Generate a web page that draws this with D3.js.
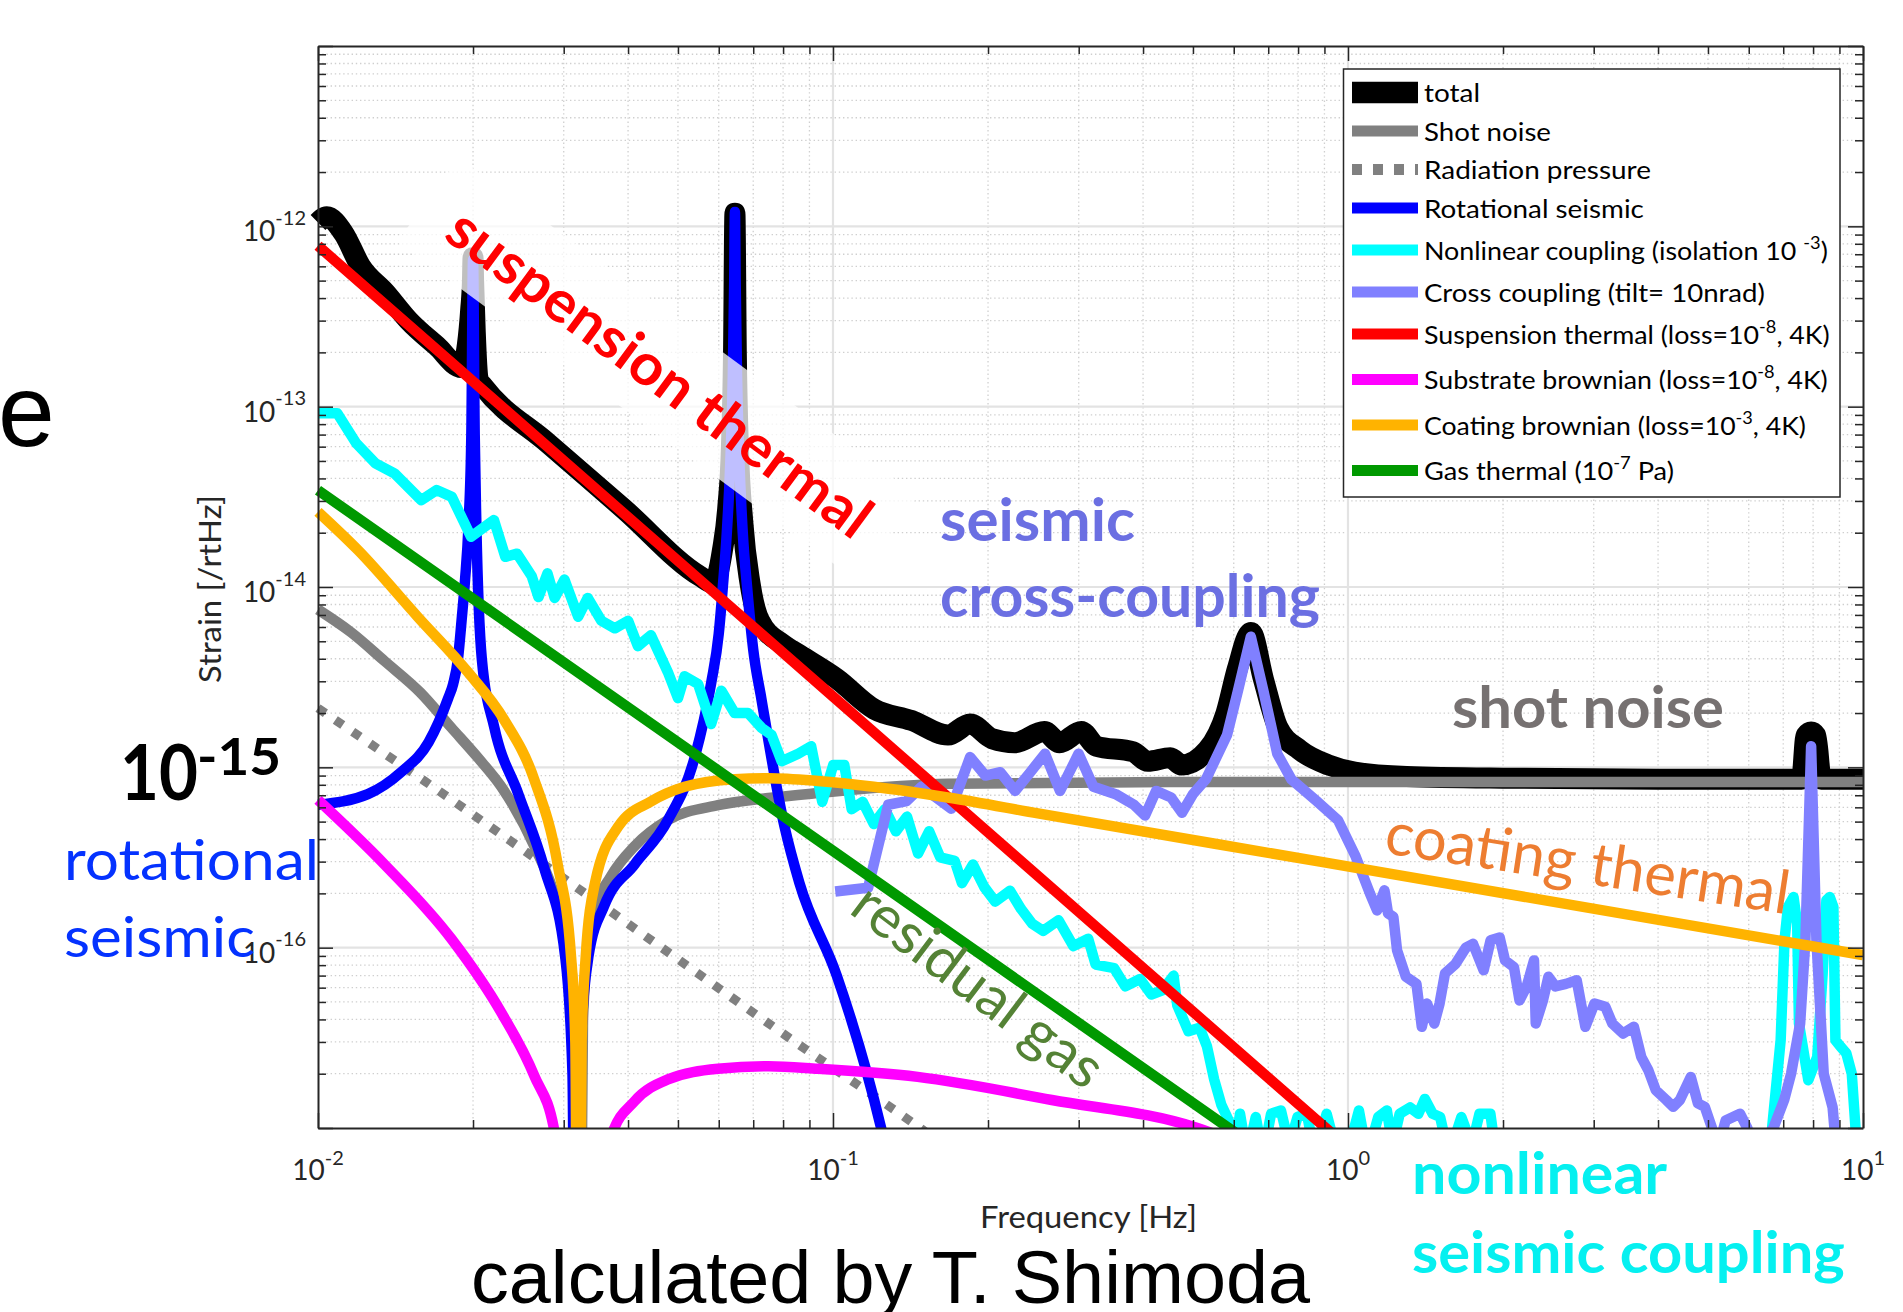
<!DOCTYPE html>
<html>
<head>
<meta charset="utf-8">
<title>Strain noise budget</title>
<script src="https://cdn.jsdelivr.net/npm/d3@7/dist/d3.min.js"></script>
<style>
  html, body { margin: 0; padding: 0; background: #ffffff; overflow: hidden; }
  svg { display: block; }
  text { white-space: pre; }
</style>
</head>
<body>
<svg id="chart" width="1903" height="1312"></svg>
<script>
// ---------------- Noise curves: [frequency Hz, strain /rtHz] ----------------
const totalNoise = [
  [0.0100, 1.05e-12], [0.0104, 1.13e-12], [0.0112, 9.2e-13], [0.0121, 6.0e-13], [0.0135, 4.3e-13],
  [0.0150, 3.0e-13], [0.0170, 2.17e-13], [0.0190, 1.65e-13], [0.0195, 2.2e-13], [0.0198, 3.5e-13],
  [0.01995, 5.0e-13], [0.0200, 6.7e-13], [0.02005, 5.0e-13], [0.0202, 2.6e-13], [0.0205, 1.4e-13],
  [0.0209, 1.3e-13], [0.0279, 6.3e-14], [0.0393, 2.7e-14], [0.0554, 1.14e-14], [0.0585, 1.05e-14],
  [0.0610, 1.6e-14], [0.0625, 2.8e-14], [0.0635, 6.0e-14], [0.0641, 2.0e-13], [0.0645, 1.18e-12],
  [0.0649, 2.0e-13], [0.0655, 6.0e-14], [0.0668, 2.3e-14], [0.0690, 1.05e-14], [0.0720, 6.5e-15],
  [0.0800, 4.8e-15], [0.0861, 4.2e-15], [0.1017, 3.1e-15], [0.1203, 2.1e-15], [0.1420, 1.82e-15],
  [0.1672, 1.51e-15], [0.1846, 1.74e-15], [0.2038, 1.44e-15], [0.2253, 1.37e-15], [0.2573, 1.58e-15],
  [0.2753, 1.37e-15], [0.3035, 1.58e-15], [0.3244, 1.31e-15], [0.3825, 1.22e-15], [0.4085, 1.08e-15],
  [0.4518, 1.13e-15], [0.4750, 1.03e-15], [0.5336, 1.25e-15], [0.5797, 2.0e-15], [0.6100, 3.53e-15],
  [0.6476, 5.6e-15], [0.6856, 3.06e-15], [0.7311, 1.66e-15], [0.8054, 1.25e-15], [0.9170, 1.03e-15],
  [1.030, 9.4e-16], [1.300, 8.9e-16], [2.000, 8.7e-16], [4.000, 8.6e-16], [7.600, 8.6e-16],
  [7.750, 1.5e-15], [7.930, 1.57e-15], [8.100, 1.5e-15], [8.300, 8.6e-16], [10.00, 8.6e-16]
];

const shotNoise = [
  [0.0100, 7.5e-15], [0.0116, 5.6e-15], [0.01347, 3.88e-15], [0.0158, 2.6e-15], [0.01815, 1.66e-15],
  [0.0205, 1.12e-15], [0.0227, 7.8e-16], [0.0263, 3.66e-16], [0.0292, 1.72e-16], [0.0310, 8.0e-17],
  [0.0316, 3.0e-17], [0.0321, 1e-19], [0.0327, 4.0e-17], [0.0339, 1.42e-16], [0.0371, 2.5e-16],
  [0.0412, 3.66e-16], [0.0478, 5.1e-16], [0.0598, 6.17e-16], [0.0749, 6.76e-16], [0.0935, 7.2e-16],
  [0.167, 8.1e-16], [0.45, 8.3e-16], [10.0, 8.3e-16]
];

const radiationPressure = [
  [0.0100, 2.13e-15], [0.0161, 8.4e-16], [0.0330, 2.0e-16], [0.0907, 2.6e-17], [0.1441, 1.05e-17], [0.2000, 5.3e-18]
];

const rotationalSeismic = [
  [0.0100, 6.2e-16], [0.0125, 7.1e-16], [0.0145, 9.4e-16], [0.0164, 1.38e-15], [0.0179, 2.42e-15],
  [0.0183, 2.9e-15], [0.0187, 4.0e-15], [0.0190, 6.5e-15], [0.0193, 1.1e-14], [0.0196, 2.2e-14],
  [0.01985, 7.0e-14], [0.0200, 6.5e-13], [0.02015, 7.0e-14], [0.0203, 2.2e-14], [0.0208, 4.0e-15],
  [0.0220, 1.66e-15], [0.0245, 7.1e-16], [0.0275, 2.76e-16], [0.0302, 8.9e-17], [0.0312, 2.0e-17],
  [0.0317, 1e-19], [0.0322, 2.0e-17], [0.0335, 8.9e-17], [0.0360, 1.72e-16], [0.0412, 2.9e-16],
  [0.0478, 5.1e-16], [0.0539, 1.14e-15], [0.0580, 2.93e-15], [0.0600, 5.5e-15], [0.0611, 1.0e-14],
  [0.0622, 2.0e-14], [0.0632, 5.0e-14], [0.0639, 1.5e-13], [0.0643, 5.0e-13], [0.0645, 1.2e-12],
  [0.0647, 5.0e-13], [0.0651, 1.5e-13], [0.0658, 5.0e-14], [0.0668, 2.0e-14], [0.0681, 1.0e-14],
  [0.0700, 4.5e-15], [0.0726, 2.4e-15], [0.0805, 4.7e-16], [0.0860, 2.3e-16], [0.1017, 7.0e-17],
  [0.1240, 1.0e-17], [0.1400, 2.0e-18]
];

const nonlinearCoupling = [
  [0.0100, 9.2e-14], [0.0109, 9.2e-14], [0.01187, 6.25e-14], [0.01293, 4.85e-14], [0.01407, 4.27e-14],
  [0.01587, 3.03e-14], [0.01699, 3.45e-14], [0.01819, 3.16e-14], [0.01982, 1.9e-14], [0.02196, 2.35e-14],
  [0.02311, 1.47e-14], [0.02435, 1.53e-14], [0.0260, 1.15e-14], [0.0268, 8.8e-15], [0.0279, 1.19e-14],
  [0.0288, 8.7e-15], [0.0301, 1.1e-14], [0.0320, 6.84e-15], [0.0334, 8.7e-15], [0.0355, 6.5e-15],
  [0.0377, 5.9e-15], [0.0400, 6.5e-15], [0.0418, 4.7e-15], [0.0443, 5.4e-15], [0.0478, 3.37e-15],
  [0.0500, 2.42e-15], [0.0515, 3.2e-15], [0.0547, 2.9e-15], [0.0580, 1.74e-15], [0.0607, 2.66e-15],
  [0.0644, 2.0e-15], [0.0684, 2.0e-15], [0.0726, 1.66e-15], [0.0760, 1.51e-15], [0.0795, 1.08e-15],
  [0.0856, 1.19e-15], [0.0907, 1.31e-15], [0.0953, 6.44e-16], [0.1001, 1.03e-15], [0.1052, 1.03e-15],
  [0.1087, 5.86e-16], [0.1142, 6.44e-16], [0.1200, 4.85e-16], [0.1261, 5.86e-16], [0.1325, 4.42e-16],
  [0.1392, 5.33e-16], [0.1463, 3.33e-16], [0.1537, 4.42e-16], [0.1615, 3.17e-16], [0.1723, 3.03e-16],
  [0.1780, 2.28e-16], [0.1870, 2.89e-16], [0.1966, 2.17e-16], [0.2065, 1.8e-16], [0.2206, 2.07e-16],
  [0.2318, 1.64e-16], [0.2436, 1.36e-16], [0.2559, 1.24e-16], [0.2740, 1.42e-16], [0.2929, 1.02e-16],
  [0.3130, 1.12e-16], [0.3236, 8.05e-17], [0.3515, 7.7e-17], [0.3695, 6.1e-17], [0.3946, 6.7e-17],
  [0.4150, 5.5e-17], [0.4362, 5.8e-17], [0.4585, 7.0e-17], [0.4660, 4.8e-17], [0.4899, 3.44e-17],
  [0.5150, 3.6e-17], [0.5320, 2.85e-17], [0.5496, 1.86e-17], [0.5679, 1.34e-17], [0.5960, 1.0e-17],
  [0.605, 8e-18], [0.617, 1.2e-17], [0.637, 7e-18], [0.662, 1.15e-17], [0.684, 7e-18],
  [0.709, 1.2e-17], [0.741, 1.25e-17], [0.769, 8e-18], [0.798, 1.15e-17], [0.832, 1.2e-17],
  [0.863, 7e-18], [0.909, 1.2e-17], [0.943, 8e-18], [0.995, 7e-18], [1.05, 1.25e-17],
  [1.09, 7e-18], [1.145, 1.15e-17], [1.19, 1.25e-17], [1.22, 8e-18], [1.26, 1.2e-17],
  [1.32, 1.3e-17], [1.37, 1.2e-17], [1.41, 1.45e-17], [1.46, 1.2e-17], [1.51, 1.15e-17],
  [1.57, 7e-18], [1.66, 1.15e-17], [1.74, 8e-18], [1.80, 1.2e-17], [1.89, 1.2e-17],
  [1.94, 7e-18], [3.0, 3e-18], [6.5, 3e-18], [6.66, 1.0e-17], [6.82, 2.0e-17],
  [6.92, 3.07e-17], [7.04, 1.1e-16], [7.15, 1.68e-16], [7.33, 1.91e-16], [7.45, 1.36e-16],
  [7.51, 3.8e-17], [7.83, 1.84e-17], [8.15, 2.48e-17], [8.35, 7.2e-17], [8.49, 1.83e-16],
  [8.62, 1.91e-16], [8.76, 1.68e-16], [8.84, 3.07e-17], [9.05, 2.82e-17], [9.28, 2.6e-17],
  [9.51, 2.0e-17], [9.67, 1.0e-17], [9.85, 6e-18], [10.0, 5e-18]
];

const crossCoupling = [
  [0.101, 2.05e-16], [0.117, 2.15e-16], [0.128, 6.2e-16], [0.139, 6.5e-16], [0.1485, 7.8e-16],
  [0.162, 6.5e-16], [0.1697, 5.9e-16], [0.1846, 1.14e-15], [0.1977, 9.0e-16], [0.2113, 9.4e-16],
  [0.2258, 7.4e-16], [0.2416, 9.4e-16], [0.258, 1.19e-15], [0.276, 7.4e-16], [0.2998, 1.19e-15],
  [0.3205, 7.8e-16], [0.354, 7.1e-16], [0.384, 6.2e-16], [0.4035, 5.4e-16], [0.424, 7.4e-16],
  [0.4535, 6.8e-16], [0.476, 5.6e-16], [0.500, 7.1e-16], [0.530, 8.6e-16], [0.5823, 1.51e-15],
  [0.6114, 2.66e-15], [0.6476, 5.3e-15], [0.685, 2.66e-15], [0.7288, 1.19e-15], [0.777, 8.55e-16],
  [0.869, 6.5e-16], [0.956, 5.1e-16], [1.035, 3.2e-16], [1.103, 2.0e-16], [1.139, 1.61e-16],
  [1.177, 2.08e-16], [1.196, 1.55e-16], [1.225, 1.48e-16], [1.245, 9.7e-17], [1.295, 6.9e-17],
  [1.358, 6.3e-17], [1.391, 3.64e-17], [1.424, 4.9e-17], [1.471, 3.8e-17], [1.506, 4.9e-17],
  [1.543, 7.2e-17], [1.616, 8.1e-17], [1.694, 1.0e-16], [1.749, 1.05e-16], [1.834, 7.5e-17],
  [1.892, 1.1e-16], [1.970, 1.14e-16], [2.018, 8.5e-17], [2.100, 7.8e-17], [2.153, 5.1e-17],
  [2.223, 6.1e-17], [2.297, 8.5e-17], [2.315, 3.8e-17], [2.391, 5.1e-17], [2.450, 6.9e-17],
  [2.527, 6.1e-17], [2.650, 6.3e-17], [2.780, 6.6e-17], [2.890, 3.64e-17], [3.010, 4.9e-17],
  [3.160, 4.7e-17], [3.260, 3.8e-17], [3.420, 3.34e-17], [3.590, 3.64e-17], [3.710, 2.48e-17],
  [3.830, 2.09e-17], [3.960, 1.62e-17], [4.150, 1.43e-17], [4.280, 1.31e-17], [4.410, 1.43e-17],
  [4.630, 1.92e-17], [4.780, 1.37e-17], [4.930, 1.31e-17], [5.090, 1.0e-17], [5.250, 8e-18],
  [5.410, 1.1e-17], [5.770, 1.2e-17], [5.960, 1.0e-17], [6.200, 7.5e-18], [6.700, 1.0e-17],
  [7.030, 1.43e-17], [7.250, 2.0e-17], [7.550, 3.8e-17], [7.730, 1.1e-16], [7.930, 1.31e-15],
  [8.120, 1.1e-16], [8.390, 2.0e-17], [8.730, 1.3e-17], [8.800, 1.0e-17], [9.300, 7e-18]
];

const suspensionThermal = [[0.0100, 7.8e-13], [0.1000, 2.47e-15], [1.0000, 7.8e-18]];

const substrateBrownian = [
  [0.0100, 6.6e-16], [0.01347, 2.89e-16], [0.01815, 1.12e-16], [0.0227, 4.36e-17], [0.0263, 1.95e-17],
  [0.0288, 9.5e-18], [0.0327, 1e-19], [0.0371, 9e-18], [0.0412, 1.41e-17], [0.0478, 1.86e-17],
  [0.0598, 2.13e-17], [0.0749, 2.2e-17], [0.0935, 2.13e-17], [0.146, 1.92e-17], [0.266, 1.43e-17],
  [0.510, 1.0e-17], [0.700, 7e-18]
];

const coatingBrownian = [
  [0.0100, 2.61e-14], [0.01196, 1.6e-14], [0.01564, 6.8e-15], [0.01955, 3.37e-15], [0.0230, 1.83e-15],
  [0.0263, 8.55e-16], [0.0292, 2.9e-16], [0.0310, 8.9e-17], [0.0316, 3e-17], [0.0320, 1e-19],
  [0.0325, 3e-17], [0.0331, 8.9e-17], [0.0345, 2.28e-16], [0.0383, 4.7e-16], [0.0443, 6.46e-16],
  [0.0515, 7.8e-16], [0.0644, 8.6e-16], [0.0750, 8.7e-16], [0.0935, 8.4e-16], [0.120, 7.8e-16],
  [0.167, 6.8e-16], [0.250, 5.55e-16], [0.882, 3.0e-16], [10.0, 9.1e-17]
];

const gasThermal = [[0.0100, 3.44e-14], [0.1000, 3.44e-16], [1.0000, 3.44e-18]];

// ---------------- Legend text ("^{..}" marks a superscript) ----------------
const legendLabels = [
  "total",
  "Shot noise",
  "Radiation pressure",
  "Rotational seismic",
  "Nonlinear coupling (isolation 10 ^{-3})",
  "Cross coupling (tilt= 10nrad)",
  "Suspension thermal (loss=10^{-8}, 4K)",
  "Substrate brownian (loss=10^{-8}, 4K)",
  "Coating brownian (loss=10^{-3}, 4K)",
  "Gas thermal (10^{-7} Pa)"
];

// ---------------- Tick labels ----------------
const xTickValues = [1e-2, 1e-1, 1e0, 1e1];
const xTickExponents = ["-2", "-1", "0", "1"];
const yTickValues = [1e-12, 1e-13, 1e-14, 1e-16];
const yTickExponents = ["-12", "-13", "-14", "-16"];

// ---------------- Layout ----------------
const svg = d3.select("#chart");
const plot = { left: 318, right: 1863, top: 46, bottom: 1128 };
const x = d3.scaleLog().domain([1e-2, 1e1]).range([plot.left, plot.right]);
const y = d3.scaleLog().domain([1e-17, 1e-11]).range([plot.bottom, plot.top]);

const AXIS = "#262626";
const SANS = "Lato, 'Open Sans', sans-serif";

// squeeze/stretch a text horizontally to a given width, keeping its anchor fixed
function fitText(sel, target) {
  const bb = sel.node().getBBox();
  if (!bb.width) return sel;
  const k = target / bb.width;
  const ox = +sel.attr("x") || 0;
  sel.attr("transform", `translate(${ox},0) scale(${k},1) translate(${-ox},0)`);
  return sel;
}

// text with "^{..}" superscripts
function richText(sel, label, supSize, supShift) {
  const parts = label.split(/(\^\{[^}]*\})/).filter(p => p.length);
  let raised = false;
  parts.forEach(p => {
    if (p.startsWith("^{")) {
      sel.append("tspan").attr("font-size", supSize).attr("dy", -supShift).text(p.slice(2, -1));
      raised = true;
    } else {
      const t = sel.append("tspan").text(p);
      if (raised) { t.attr("dy", supShift); raised = false; }
    }
  });
  return sel;
}

// ---------------- Grid ----------------
const xMajor = [1e-2, 1e-1, 1e0, 1e1];
const yMajor = [1e-17, 1e-16, 1e-15, 1e-14, 1e-13, 1e-12, 1e-11];
const xMinor = [];
for (let e = -2; e < 1; e++) for (let k = 2; k <= 9; k++) xMinor.push(k * Math.pow(10, e));
const yMinor = [];
for (let e = -17; e < -11; e++) for (let k = 2; k <= 9; k++) yMinor.push(k * Math.pow(10, e));

const grid = svg.append("g").attr("class", "grid");
grid.selectAll("line.xmin").data(xMinor).join("line")
  .attr("x1", d => x(d)).attr("x2", d => x(d)).attr("y1", plot.top).attr("y2", plot.bottom)
  .attr("stroke", "#cfcfcf").attr("stroke-width", 1.3).attr("stroke-dasharray", "1.4,2.8");
grid.selectAll("line.ymin").data(yMinor).join("line")
  .attr("y1", d => y(d)).attr("y2", d => y(d)).attr("x1", plot.left).attr("x2", plot.right)
  .attr("stroke", "#cfcfcf").attr("stroke-width", 1.3).attr("stroke-dasharray", "1.4,2.8");
grid.selectAll("line.xmaj").data(xMajor.slice(1, -1)).join("line")
  .attr("x1", d => x(d)).attr("x2", d => x(d)).attr("y1", plot.top).attr("y2", plot.bottom)
  .attr("stroke", "#e3e3e3").attr("stroke-width", 2.2);
grid.selectAll("line.ymaj").data(yMajor.slice(1, -1)).join("line")
  .attr("y1", d => y(d)).attr("y2", d => y(d)).attr("x1", plot.left).attr("x2", plot.right)
  .attr("stroke", "#e3e3e3").attr("stroke-width", 2.2);

// ---------------- Curves ----------------
svg.append("defs").append("clipPath").attr("id", "plotClip")
  .append("rect").attr("x", plot.left - 20).attr("y", plot.top)
  .attr("width", plot.right - plot.left + 40).attr("height", plot.bottom - plot.top);

// smooth = modelled curves; jagged = measured/noisy spectra
const series = [
  { data: totalNoise,        color: "#000000", width: 21,   smooth: true },
  { data: shotNoise,         color: "#808080", width: 10.5, smooth: true },
  { data: radiationPressure, color: "#808080", width: 9,    smooth: true, dash: "9,12" },
  { data: rotationalSeismic, color: "#0000ff", width: 10.5, smooth: true },
  { data: nonlinearCoupling, color: "#00ffff", width: 10.5, smooth: false },
  { data: crossCoupling,     color: "#8080ff", width: 10.5, smooth: false },
  { data: suspensionThermal, color: "#ff0000", width: 10.5, smooth: false },
  { data: substrateBrownian, color: "#ff00ff", width: 10.5, smooth: true },
  { data: coatingBrownian,   color: "#ffb300", width: 10.5, smooth: true },
  { data: gasThermal,        color: "#009900", width: 10.5, smooth: false }
];

const smoothLine = d3.line().x(d => x(d[0])).y(d => y(d[1])).curve(d3.curveMonotoneX);
const jaggedLine = d3.line().x(d => x(d[0])).y(d => y(d[1]));
const curves = svg.append("g").attr("clip-path", "url(#plotClip)");
series.forEach(s => {
  curves.append("path")
    .attr("d", (s.smooth ? smoothLine : jaggedLine)(s.data))
    .attr("fill", "none")
    .attr("stroke", s.color)
    .attr("stroke-width", s.width)
    .attr("stroke-linejoin", "round")
    .attr("stroke-linecap", "butt")
    .attr("stroke-dasharray", s.dash || null);
});

// ---------------- Axes (box with inward ticks) ----------------
const allX = xMajor.concat(xMinor);
const allY = yMajor.concat(yMinor);
const isMajX = d => xMajor.includes(d);
const isMajY = d => yMajor.includes(d);

function styleAxis(g) {
  g.select(".domain").attr("stroke", AXIS).attr("stroke-width", 2);
  g.selectAll(".tick line").attr("stroke", AXIS).attr("stroke-width", 1.5);
  g.selectAll(".tick text").remove();
}
const axB = svg.append("g").attr("transform", `translate(0,${plot.bottom})`)
  .call(d3.axisBottom(x).tickValues(allX).tickFormat("").tickSizeOuter(0));
axB.selectAll(".tick line").attr("y2", d => isMajX(d) ? -15 : -8);
styleAxis(axB);
const axT = svg.append("g").attr("transform", `translate(0,${plot.top})`)
  .call(d3.axisTop(x).tickValues(allX).tickFormat("").tickSizeOuter(0));
axT.selectAll(".tick line").attr("y2", d => isMajX(d) ? 15 : 8);
styleAxis(axT);
const axL = svg.append("g").attr("transform", `translate(${plot.left},0)`)
  .call(d3.axisLeft(y).tickValues(allY).tickFormat("").tickSizeOuter(0));
axL.selectAll(".tick line").attr("x2", d => isMajY(d) ? 15 : 8);
styleAxis(axL);
const axR = svg.append("g").attr("transform", `translate(${plot.right},0)`)
  .call(d3.axisRight(y).tickValues(allY).tickFormat("").tickSizeOuter(0));
axR.selectAll(".tick line").attr("x2", d => isMajY(d) ? -15 : -8);
styleAxis(axR);

// tick labels 10^n
xTickValues.forEach((v, i) => {
  const t = svg.append("text").attr("x", x(v)).attr("y", 1180)
    .attr("text-anchor", "middle").attr("font-family", SANS).attr("font-size", 28).attr("fill", AXIS);
  richText(t, "10^{" + xTickExponents[i] + "}", 20, 15);
});
yTickValues.forEach((v, i) => {
  const t = svg.append("text").attr("x", 306).attr("y", y(v) + 15)
    .attr("text-anchor", "end").attr("font-family", SANS).attr("font-size", 28).attr("fill", AXIS);
  richText(t, "10^{" + yTickExponents[i] + "}", 20, 16.5);
});

// axis titles
const xTitle = svg.append("text").attr("x", 1088.5).attr("y", 1228).attr("text-anchor", "middle")
  .attr("font-family", SANS).attr("font-size", 31).attr("fill", AXIS).text("Frequency [Hz]");
fitText(xTitle, 217);
const yTitleG = svg.append("g").attr("transform", "translate(221,589) rotate(-90)");
const yTitle = yTitleG.append("text").attr("x", 0).attr("y", 0).attr("text-anchor", "middle")
  .attr("font-family", SANS).attr("font-size", 31).attr("fill", AXIS).text("Strain [/rtHz]");
fitText(yTitle, 188);

// ---------------- Legend ----------------
const legendWidths = [56, 127, 227, 220, 404, 341, 406, 404, 382, 250];
const lg = svg.append("g").attr("class", "legend");
lg.append("rect").attr("x", 1343.5).attr("y", 69).attr("width", 496.5).attr("height", 428)
  .attr("fill", "#ffffff").attr("stroke", AXIS).attr("stroke-width", 1.5);
const rowH = legendLabels.map(l => l.includes("^{") ? 45.5 : 38.5);
const rowY = [];
legendLabels.forEach((l, i) => {
  rowY.push(i === 0 ? 92.5 : rowY[i - 1] + (rowH[i - 1] + rowH[i]) / 2);
});
series.forEach((s, i) => {
  lg.append("line").attr("x1", 1352).attr("x2", 1418).attr("y1", rowY[i]).attr("y2", rowY[i])
    .attr("stroke", s.color).attr("stroke-width", i === 0 ? 21.5 : 11)
    .attr("stroke-dasharray", s.dash ? "10,11" : null);
  const t = lg.append("text").attr("x", 1424).attr("y", rowY[i] + 10)
    .attr("font-family", SANS).attr("font-size", 25).attr("fill", "#000");
  richText(t, legendLabels[i], 17, 11);
  fitText(t, legendWidths[i]);
});

// ---------------- Annotations ----------------
// translucent band behind the rotated "suspension thermal" label
const susG = svg.append("g").attr("transform", "rotate(36.4)");
susG.append("rect").attr("x", 463).attr("y", -145.4).attr("width", 570).attr("height", 104.4)
  .attr("fill", "#ffffff").attr("fill-opacity", 0.75);
const susT = svg.append("g").attr("transform", "rotate(36.4) translate(497,-71)")
  .append("text").attr("x", 0).attr("y", 0).attr("font-family", SANS).attr("font-weight", 700)
  .attr("font-size", 58).attr("fill", "#ff0000").text("suspension thermal");
fitText(susT, 511);

function label(str, xPos, yPos, size, color, weight, width) {
  const t = svg.append("text").attr("x", xPos).attr("y", yPos).attr("font-family", SANS)
    .attr("font-size", size).attr("font-weight", weight).attr("fill", color).text(str);
  return fitText(t, width);
}
label("seismic", 940, 541, 59, "#6b6fe2", 700, 195);
label("cross-coupling", 940, 616.7, 59, "#6b6fe2", 700, 380);
label("shot noise", 1452, 728.3, 57, "#767171", 700, 272);
label("rotational", 64, 880, 57, "#0432ff", 400, 255);
label("seismic", 64, 956.7, 57, "#0432ff", 400, 191);
label("nonlinear", 1412, 1194.5, 57, "#05f0f0", 700, 256);
label("seismic coupling", 1412, 1273, 57, "#05f0f0", 700, 433);

const coatT = svg.append("g").attr("transform", "translate(1383,853) rotate(8.6)")
  .append("text").attr("x", 0).attr("y", 0).attr("font-family", SANS).attr("font-size", 60)
  .attr("fill", "#ed7d31").text("coating thermal");
fitText(coatT, 408);

const gasT = svg.append("g").attr("transform", "translate(847.5,912) rotate(37)")
  .append("text").attr("x", 0).attr("y", 0).attr("font-family", SANS).attr("font-size", 58)
  .attr("fill", "#548235").text("residual gas");
fitText(gasT, 298);

// large tick callout
label("10", 120, 800, 77, "#000000", 700, 78);
label("-15", 197, 775, 52, "#000000", 700, 84);

// slide text around the figure
const HELV = "'Liberation Sans', Arial, Helvetica, sans-serif";
svg.append("text").attr("x", -2).attr("y", 446).attr("font-family", HELV).attr("font-size", 102)
  .attr("fill", "#000").text("e");
const credit = svg.append("text").attr("x", 471).attr("y", 1303).attr("font-family", HELV)
  .attr("font-size", 74).attr("fill", "#000").text("calculated by T. Shimoda");
fitText(credit, 840);
</script>
</body>
</html>
